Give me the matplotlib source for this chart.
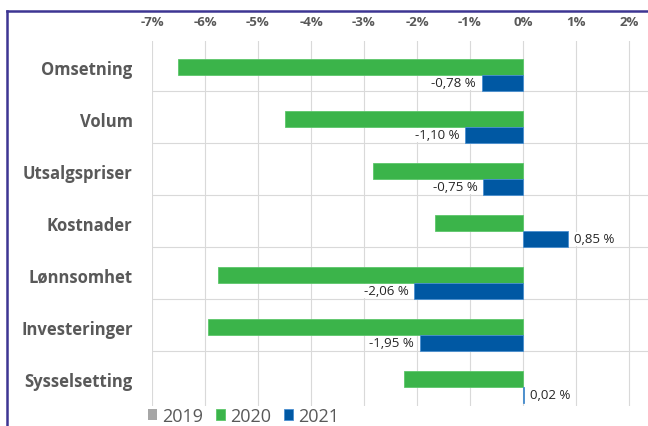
import matplotlib
matplotlib.use('Agg')
import matplotlib.pyplot as plt
from matplotlib.lines import Line2D
import numpy as np

plt.rcParams['font.family'] = ['Open Sans', 'DejaVu Sans']

kategorier = ['Omsetning', 'Volum', 'Utsalgspriser', 'Kostnader',
              'Lønnsomhet', 'Investeringer', 'Sysselsetting']
aar_2019 = [0, 0, 0, 0, 0, 0, 0]
aar_2020 = [-6.51, -4.49, -2.83, -1.66, -5.75, -5.94, -2.25]
aar_2021 = [-0.78, -1.10, -0.75, 0.85, -2.06, -1.95, 0.02]
x_ticks = [-7, -6, -5, -4, -3, -2, -1, 0, 1, 2]

GRA = '#a6a6a6'
GRONN = '#3bb44a'
BLA = '#0058a3'
TEKST = '#595959'

fig = plt.figure(figsize=(6.48, 4.27), dpi=100)
ax = fig.add_axes([152 / 648, 1 - 407 / 427, 530 / 648, 365 / 427])

y = np.arange(len(kategorier))
h = 0.3077
ax.barh(y - h, aar_2019, height=h, color=GRA, linewidth=0, label='2019')
ax.barh(y, aar_2020, height=h, color=GRONN, edgecolor='#5cc66a',
        linewidth=0.6, label='2020')
ax.barh(y + h, aar_2021, height=h, color=BLA, edgecolor='#4a8fd0',
        linewidth=0.6, label='2021')

# dataetiketter for 2021
for yi, v in zip(y + h, aar_2021):
    tekst = f'{v:.2f} %'.replace('.', ',')
    if v < 0:
        ax.annotate(tekst, (v, yi), xytext=(-4, 0), textcoords='offset points',
                    ha='right', va='center', fontsize=9.5, color='#262626',
                    bbox=dict(facecolor='white', edgecolor='none', pad=0.5))
    else:
        ax.annotate(tekst, (v, yi), xytext=(4, 0), textcoords='offset points',
                    ha='left', va='center', fontsize=9.5, color='#262626',
                    bbox=dict(facecolor='white', edgecolor='none', pad=0.5))

ax.set_xlim(-7, 3)
ax.set_ylim(6.52, -0.5)
ax.set_xticks(x_ticks)
ax.set_xticklabels([f'{t}%' for t in x_ticks])
ax.xaxis.tick_top()
ax.tick_params(axis='x', length=0, pad=9, labelsize=9.5, labelcolor=TEKST)
for lbl in ax.get_xticklabels():
    lbl.set_fontweight('bold')

ax.set_yticks(y)
ax.set_yticklabels(kategorier, fontsize=12, fontweight='bold', color=TEKST)
ax.tick_params(axis='y', length=0, pad=14)

ax.set_yticks(y[:-1] + 0.4615, minor=True)
ax.tick_params(axis='y', which='minor', length=0)
ax.grid(axis='x', color='#d9d9d9', linewidth=0.8)
ax.grid(axis='y', which='minor', color='#d9d9d9', linewidth=0.8)
ax.set_axisbelow(True)
# rutenettet for 3% ligger utenfor bildet
ax.axvline(3, color='#d9d9d9', linewidth=0.8, zorder=0)
for s in ax.spines.values():
    s.set_visible(False)

leg = fig.legend(loc='center left', bbox_to_anchor=(148 / 648, 1 - 417 / 427),
                 ncol=3, frameon=False, fontsize=13, handlelength=0.5,
                 handleheight=0.5, handletextpad=0.3, columnspacing=0.7,
                 borderaxespad=0, borderpad=0)
for t in leg.get_texts():
    t.set_color(TEKST)

# ramme rundt diagrammet
fig.add_artist(Line2D([7 / 648, 7 / 648], [0, 1 - 12 / 427], color='#3d3593', lw=1.8))
fig.add_artist(Line2D([7 / 648, 1], [1 - 12 / 427, 1 - 12 / 427], color='#3d3593', lw=1.8))

fig.savefig('out.png', dpi=100)
